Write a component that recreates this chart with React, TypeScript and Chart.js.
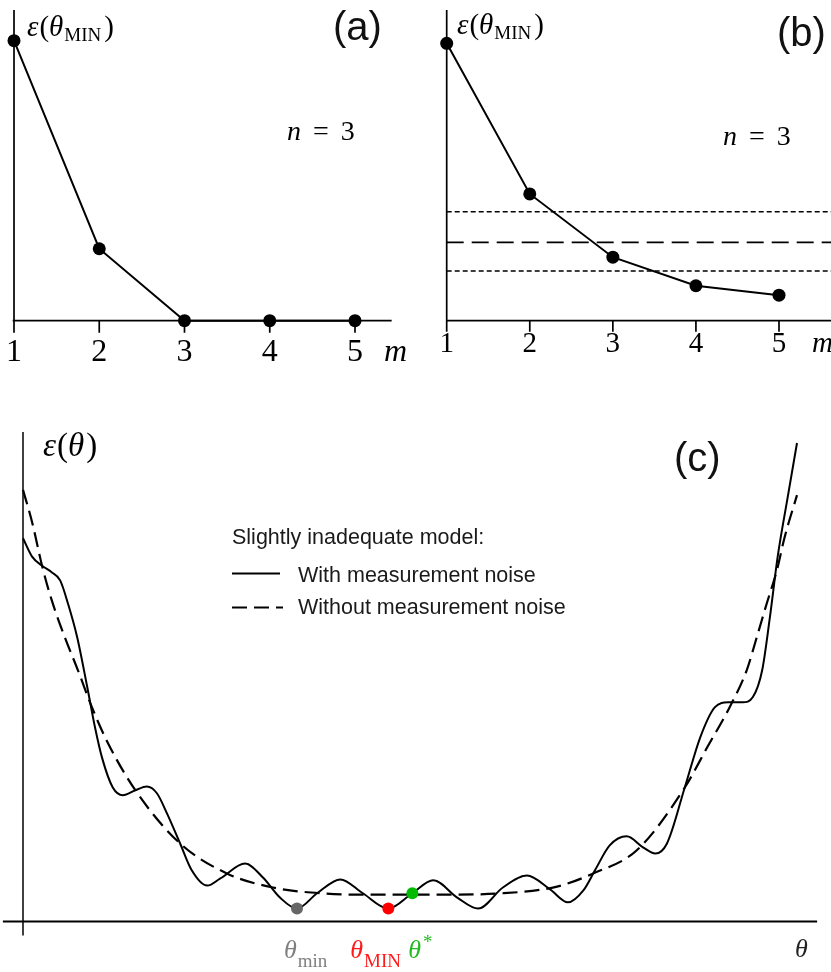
import React, { useEffect, useRef } from "react";
import { Chart, registerables } from "chart.js";

Chart.register(...registerables);

// ---------------- data ----------------
const mValues = [1, 2, 3, 4, 5];
const tickLabels = ["1", "2", "3", "4", "5"];
const errorA = [1.0, 0.257, 0, 0, 0];
const errorB = [1.0, 0.457, 0.229, 0.126, 0.092];
const thresholdUpper = 0.393;
const thresholdMid = 0.282;
const thresholdLower = 0.179;

const thetaNoisy = [
  0.0, 0.12, 0.25, 0.37, 0.48, 0.58, 0.7, 0.83, 0.93, 1.02, 1.16, 1.29, 1.45, 1.6, 1.73, 1.86,
  2.03, 2.18, 2.38, 2.55, 2.87, 3.1, 3.32, 3.54, 3.8, 4.1, 4.39, 4.72, 5.03, 5.3, 5.61, 5.88,
  6.2, 6.51, 6.81, 7.04, 7.24, 7.39, 7.58, 7.8, 8.01, 8.17, 8.32, 8.55, 8.75, 8.94, 9.11, 9.3,
  9.43, 9.55, 9.65, 9.75, 9.88, 10.0,
];
const epsNoisy = [
  8.01, 7.62, 7.43, 7.3, 7.13, 6.65, 5.94, 4.9, 4.06, 3.43, 2.8, 2.64, 2.74, 2.82, 2.68, 2.26,
  1.63, 1.07, 0.75, 0.9, 1.21, 0.92, 0.5, 0.27, 0.59, 0.88, 0.59, 0.27, 0.59, 0.86, 0.5, 0.27,
  0.71, 0.96, 0.67, 0.4, 0.65, 1.07, 1.59, 1.78, 1.55, 1.42, 1.63, 2.8, 3.85, 4.48, 4.58, 4.58,
  4.69, 5.25, 6.36, 7.62, 8.87, 10.0,
];
const thetaClean = [
  0.0, 0.12, 0.25, 0.37, 0.54, 0.71, 0.89, 1.1, 1.47, 2.03, 2.64, 3.23, 3.84, 4.48, 5.35, 6.2,
  6.9, 7.36, 7.93, 8.55, 8.84, 9.13, 9.35, 9.48, 9.61, 9.74, 9.84, 10.0,
];
const epsClean = [
  9.02, 8.33, 7.41, 6.72, 5.94, 5.25, 4.48, 3.72, 2.7, 1.63, 1.0, 0.71, 0.59, 0.56, 0.56, 0.59,
  0.73, 1.0, 1.49, 2.8, 3.64, 4.48, 5.25, 5.94, 6.65, 7.34, 8.03, 8.91,
];
const markerTheta = [3.54, 4.72, 5.03];
const markerEps = [0.27, 0.27, 0.59];
const markerColors = ["#666666", "#ff0000", "#00bb00"];
const legendTitle = "Slightly inadequate model:";
const legendNoisy = "With measurement noise";
const legendClean = "Without measurement noise";

// ---------------- helpers ----------------
const SERIF = '"Liberation Serif", "DejaVu Serif", serif';
const SANS = '"Liberation Sans", Arial, sans-serif';

type Part = { t: string; font: string; dy?: number; dx?: number; color?: string };

function drawParts(ctx: CanvasRenderingContext2D, parts: Part[], x: number, y: number, color = "#000") {
  let cx = x;
  for (const p of parts) {
    ctx.font = p.font;
    ctx.fillStyle = p.color || color;
    cx += p.dx || 0;
    ctx.fillText(p.t, cx, y + (p.dy || 0));
    cx += ctx.measureText(p.t).width;
  }
  return cx;
}

function epsMinParts(size: number): Part[] {
  return [
    { t: "\u03b5", font: `italic ${size}px ${SERIF}` },
    { t: "(", font: `${size}px ${SERIF}`, dx: 1 },
    { t: "\u03b8", font: `italic ${size}px ${SERIF}` },
    { t: "MIN", font: `${Math.round(size * 0.66)}px ${SERIF}`, dy: 5, dx: 1 },
    { t: ")", font: `${size}px ${SERIF}`, dx: 3 },
  ];
}

function nParts(size: number): Part[] {
  return [
    { t: "n", font: `italic ${size}px ${SERIF}` },
    { t: "=", font: `${size}px ${SERIF}`, dx: 12 },
    { t: "3", font: `${size}px ${SERIF}`, dx: 12 },
  ];
}

type TopCfg = {
  yAxisMax: number;
  xAxisMin: number;
  xAxisMax: number;
  tickLen: number;
  tickFont: number;
  tickBaseline: number;
  labelPos: [number, number];
  nPos: [number, number];
  letter: string;
  letterPos: [number, number];
  mPos: [number, number];
};

function topPlugin(cfg: TopCfg) {
  return {
    id: "topDecor",
    beforeDatasetsDraw(chart: any) {
      const { ctx } = chart;
      const xs = chart.scales.x;
      const ys = chart.scales.y;
      const x0 = xs.getPixelForValue(mValues[0]);
      const y0 = ys.getPixelForValue(0);
      ctx.save();
      ctx.strokeStyle = "#000";
      ctx.lineWidth = 1.7;
      ctx.beginPath();
      ctx.moveTo(x0, ys.getPixelForValue(cfg.yAxisMax));
      ctx.lineTo(x0, y0 + cfg.tickLen);
      ctx.moveTo(xs.getPixelForValue(cfg.xAxisMin), y0);
      ctx.lineTo(xs.getPixelForValue(cfg.xAxisMax), y0);
      for (const m of mValues) {
        const px = xs.getPixelForValue(m);
        ctx.moveTo(px, y0);
        ctx.lineTo(px, y0 + cfg.tickLen);
      }
      ctx.stroke();
      ctx.restore();
    },
    afterDraw(chart: any) {
      const { ctx } = chart;
      const xs = chart.scales.x;
      ctx.save();
      ctx.textBaseline = "alphabetic";
      ctx.fillStyle = "#000";
      ctx.font = `${cfg.tickFont}px ${SERIF}`;
      ctx.textAlign = "center";
      mValues.forEach((m, i) => {
        ctx.fillText(tickLabels[i], xs.getPixelForValue(m), cfg.tickBaseline);
      });
      ctx.textAlign = "left";
      ctx.font = `italic ${cfg.tickFont}px ${SERIF}`;
      ctx.fillText("m", cfg.mPos[0], cfg.mPos[1]);
      drawParts(ctx, epsMinParts(29), cfg.labelPos[0], cfg.labelPos[1]);
      drawParts(ctx, nParts(28), cfg.nPos[0], cfg.nPos[1]);
      ctx.font = `40px ${SANS}`;
      ctx.fillStyle = "#111";
      ctx.fillText(cfg.letter, cfg.letterPos[0], cfg.letterPos[1]);
      ctx.restore();
    },
  };
}

const bottomPlugin = {
  id: "bottomDecor",
  beforeDatasetsDraw(chart: any) {
    const { ctx } = chart;
    const xs = chart.scales.x;
    const ys = chart.scales.y;
    const x0 = xs.getPixelForValue(0);
    const y0 = ys.getPixelForValue(0);
    ctx.save();
    ctx.strokeStyle = "#000";
    ctx.lineWidth = 1.5;
    ctx.beginPath();
    ctx.moveTo(x0, ys.getPixelForValue(10.23));
    ctx.lineTo(x0, y0 + 14);
    ctx.stroke();
    ctx.lineWidth = 2;
    ctx.beginPath();
    ctx.moveTo(xs.getPixelForValue(-0.26), y0);
    ctx.lineTo(xs.getPixelForValue(10.26), y0);
    ctx.stroke();
    ctx.restore();
  },
  afterDraw(chart: any) {
    const { ctx } = chart;
    const xs = chart.scales.x;
    const ys = chart.scales.y;
    const y0 = ys.getPixelForValue(0);
    ctx.save();
    ctx.textAlign = "left";
    ctx.textBaseline = "alphabetic";
    // axis label
    drawParts(
      ctx,
      [
        { t: "\u03b5", font: `italic 33px ${SERIF}` },
        { t: "(", font: `33px ${SERIF}`, dx: 1 },
        { t: "\u03b8", font: `italic 33px ${SERIF}` },
        { t: ")", font: `33px ${SERIF}`, dx: 2 },
      ],
      43,
      56
    );
    ctx.font = `40px ${SANS}`;
    ctx.fillStyle = "#111";
    ctx.fillText("(c)", 674, 71);
    // legend
    ctx.font = `21.5px ${SANS}`;
    ctx.fillStyle = "#1a1a1a";
    ctx.fillText(legendTitle, 232, 144);
    ctx.fillText(legendNoisy, 298, 182);
    ctx.fillText(legendClean, 298, 214);
    ctx.strokeStyle = "#000";
    ctx.lineWidth = 2;
    ctx.beginPath();
    ctx.moveTo(232, 173.5);
    ctx.lineTo(280, 173.5);
    ctx.stroke();
    ctx.setLineDash([15, 7]);
    ctx.beginPath();
    ctx.moveTo(232, 207.5);
    ctx.lineTo(283, 207.5);
    ctx.stroke();
    ctx.setLineDash([]);
    // theta labels
    const base = y0 + 36.5;
    const th = `italic 26px ${SERIF}`;
    const sub = `19px ${SERIF}`;
    drawParts(
      ctx,
      [
        { t: "\u03b8", font: th },
        { t: "min", font: sub, dy: 9, dx: 1 },
      ],
      xs.getPixelForValue(markerTheta[0]) - 13,
      base,
      "#808080"
    );
    drawParts(
      ctx,
      [
        { t: "\u03b8", font: th },
        { t: "MIN", font: sub, dy: 9, dx: 1 },
      ],
      xs.getPixelForValue(markerTheta[1]) - 38,
      base,
      "#ff1a1a"
    );
    drawParts(
      ctx,
      [
        { t: "\u03b8", font: th },
        { t: "*", font: `19px ${SERIF}`, dy: -10, dx: 2 },
      ],
      xs.getPixelForValue(markerTheta[2]) - 4,
      base,
      "#22bb22"
    );
    ctx.font = th;
    ctx.fillStyle = "#222";
    ctx.fillText("\u03b8", xs.getPixelForValue(10) - 2, base - 1);
    ctx.restore();
  },
};

// ---------------- configs ----------------
function baseOptions(xmin: number, xmax: number, ymin: number, ymax: number, padding: any) {
  return {
    animation: false,
    responsive: false,
    events: [],
    layout: { padding },
    plugins: { legend: { display: false }, tooltip: { enabled: false }, title: { display: false } },
    scales: {
      x: { type: "linear", display: false, min: xmin, max: xmax },
      y: { type: "linear", display: false, min: ymin, max: ymax },
    },
  };
}

function configA(): any {
  return {
    type: "line",
    data: {
      datasets: [
        {
          data: mValues.map((m, i) => ({ x: m, y: errorA[i] })),
          borderColor: "#000",
          borderWidth: 2,
          pointRadius: 6.5,
          pointBackgroundColor: "#000",
          pointBorderWidth: 0,
          tension: 0,
          clip: false,
        },
      ],
    },
    options: baseOptions(1, 5, 0, 1, { left: 14, right: 60, top: 40.7, bottom: 59.3 }),
    plugins: [
      topPlugin({
        yAxisMax: 1.11,
        xAxisMin: 0.985,
        xAxisMax: 5.43,
        tickLen: 12,
        tickFont: 32,
        tickBaseline: 361,
        labelPos: [27, 36],
        nPos: [287, 140],
        letter: "(a)",
        letterPos: [333, 40],
        mPos: [384, 361],
      }),
    ],
  };
}

function configB(): any {
  const hline = (v: number) => [
    { x: 1, y: v },
    { x: 5.7, y: v },
  ];
  return {
    type: "line",
    data: {
      datasets: [
        {
          data: mValues.map((m, i) => ({ x: m, y: errorB[i] })),
          borderColor: "#000",
          borderWidth: 2,
          pointRadius: 6.5,
          pointBackgroundColor: "#000",
          pointBorderWidth: 0,
          tension: 0,
          clip: false,
        },
        { data: hline(thresholdUpper), borderColor: "#000", borderWidth: 1.5, borderDash: [5, 3], pointRadius: 0, clip: false },
        { data: hline(thresholdMid), borderColor: "#000", borderWidth: 1.8, borderDash: [17, 8], pointRadius: 0, clip: false },
        { data: hline(thresholdLower), borderColor: "#000", borderWidth: 1.5, borderDash: [5, 3], pointRadius: 0, clip: false },
      ],
    },
    options: baseOptions(1, 5, 0, 1, { left: 31.7, right: 52, top: 43.3, bottom: 59.3 }),
    plugins: [
      topPlugin({
        yAxisMax: 1.12,
        xAxisMin: 1,
        xAxisMax: 5.7,
        tickLen: 11,
        tickFont: 29,
        tickBaseline: 352,
        labelPos: [42, 34],
        nPos: [308, 145],
        letter: "(b)",
        letterPos: [362, 46],
        mPos: [397, 352],
      }),
    ],
  };
}

function configC(): any {
  return {
    type: "line",
    data: {
      datasets: [
        {
          data: markerTheta.map((t, i) => ({ x: t, y: markerEps[i] })),
          showLine: false,
          pointRadius: 6,
          pointBackgroundColor: markerColors,
          pointBorderWidth: 0,
          clip: false,
        },
        {
          data: thetaNoisy.map((t, i) => ({ x: t, y: epsNoisy[i] })),
          borderColor: "#000",
          borderWidth: 2,
          pointRadius: 0,
          cubicInterpolationMode: "monotone",
          clip: false,
        },
        {
          data: thetaClean.map((t, i) => ({ x: t, y: epsClean[i] })),
          borderColor: "#000",
          borderWidth: 2.2,
          borderDash: [15, 7],
          pointRadius: 0,
          cubicInterpolationMode: "monotone",
          clip: false,
        },
      ],
    },
    options: baseOptions(0, 10, 0, 10, { left: 23, right: 34, top: 43, bottom: 50.5 }),
    plugins: [bottomPlugin],
  };
}

function Panel({ make, left, top, width, height }: { make: () => any; left: number; top: number; width: number; height: number }) {
  const ref = useRef<HTMLCanvasElement>(null);
  useEffect(() => {
    const chart = new Chart(ref.current as HTMLCanvasElement, make());
    return () => chart.destroy();
  }, []);
  return (
    <canvas
      ref={ref}
      width={width}
      height={height}
      style={{ position: "absolute", left, top, width, height, display: "block" }}
    />
  );
}

export default function App() {
  return (
    <div style={{ position: "absolute", left: 0, top: 0, width: 831, height: 972, background: "#fff", overflow: "hidden" }}>
      <Panel make={configA} left={0} top={0} width={415} height={380} />
      <Panel make={configB} left={415} top={0} width={416} height={380} />
      <Panel make={configC} left={0} top={400} width={831} height={572} />
    </div>
  );
}
